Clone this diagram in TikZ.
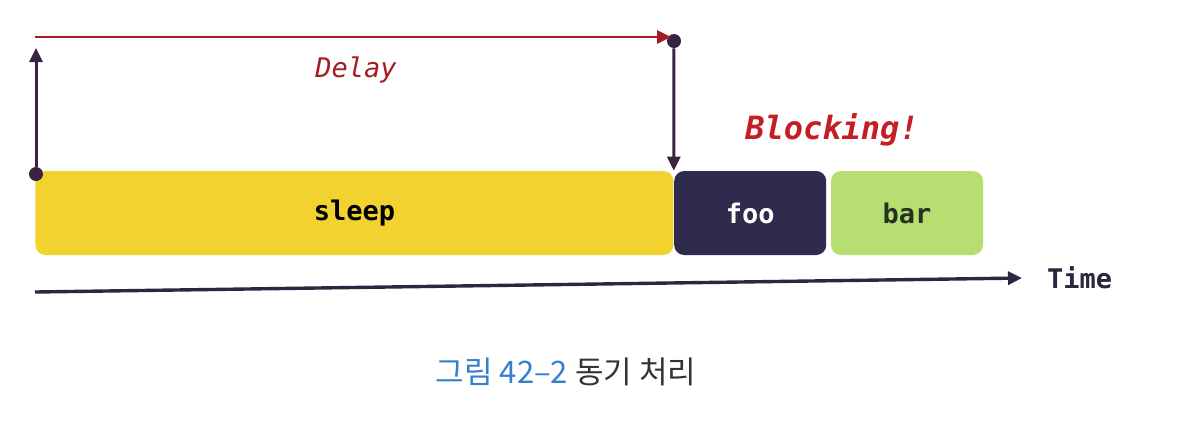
\documentclass[tikz,border=0pt]{standalone}
\usepackage{fontspec}
\setmonofont{DejaVu Sans Mono}
\newfontfamily\krfont{Noto Sans CJK KR}
\usetikzlibrary{positioning,arrows.meta}

\definecolor{sleepyellow}{RGB}{242,210,46}
\definecolor{foonavy}{RGB}{46,43,76}
\definecolor{bargreen}{RGB}{182,222,112}
\definecolor{barink}{RGB}{40,48,34}
\definecolor{delayred}{RGB}{165,28,36}
\definecolor{blockred}{RGB}{196,30,36}
\definecolor{markpurple}{RGB}{58,34,66}
\definecolor{axisnavy}{RGB}{40,40,62}
\definecolor{figblue}{RGB}{52,128,205}

\begin{document}
\begin{tikzpicture}[x=0.5pt,y=-0.5pt]
	\tikzstyle{every node}=[font=\ttfamily\bfseries\fontsize{13.5}{16}\selectfont]
	\tikzstyle{task}=[rounded corners=5pt, minimum height=42pt, inner sep=0pt]
	\tikzstyle{dot}=[circle, fill=markpurple, inner sep=0pt, minimum size=7pt]
	\tikzstyle{every edge}=[draw, -{Triangle[length=7pt,width=6.5pt]}, line width=1.5pt]

	\useasboundingbox[fill=white] (0,0) rectangle (1193,425);

	% tasks on the time line
	\node[task, fill=sleepyellow, minimum width=319pt, anchor=west] (sleep) at (35,213) {sleep};
	\node[task, fill=foonavy, text=white, minimum width=76pt, right=0pt of sleep] (foo) {foo};
	\node[task, fill=bargreen, text=barink, minimum width=76pt, right=2pt of foo] (bar) {bar};

	% delay markers
	\node[dot] (start) at (36,174) {};
	\node[dot] (stop) at (674,41) {};
	\coordinate (top) at (36,48);
	\coordinate (origin) at (35,37);
	\coordinate (delayend) at (671,37);

	\draw[markpurple] (start) edge (top);
	\draw[markpurple] (stop) edge (sleep.north east);
	\draw[delayred] (origin) edge[line width=1.3pt] (delayend);

	\node[delayred, font=\ttfamily\itshape\fontsize{13.5}{16}\selectfont] (delay) at (356,70) {Delay};
	\node[blockred, font=\ttfamily\bfseries\itshape\fontsize{16}{19}\selectfont] (blocking) at (832,130) {Blocking!};

	% time axis
	\coordinate (t0) at (35,292);
	\coordinate (t1) at (1022,278);
	\node[axisnavy, right=9pt of t1] (time) {Time};
	\draw[axisnavy] (t0) edge[line width=1.7pt] (t1);

	\node[text=black!80, font=\krfont\fontsize{15.5}{18}\selectfont] (caption) at (566,372) {\textcolor{figblue}{그림 42–2} 동기 처리};
\end{tikzpicture}
\end{document}
